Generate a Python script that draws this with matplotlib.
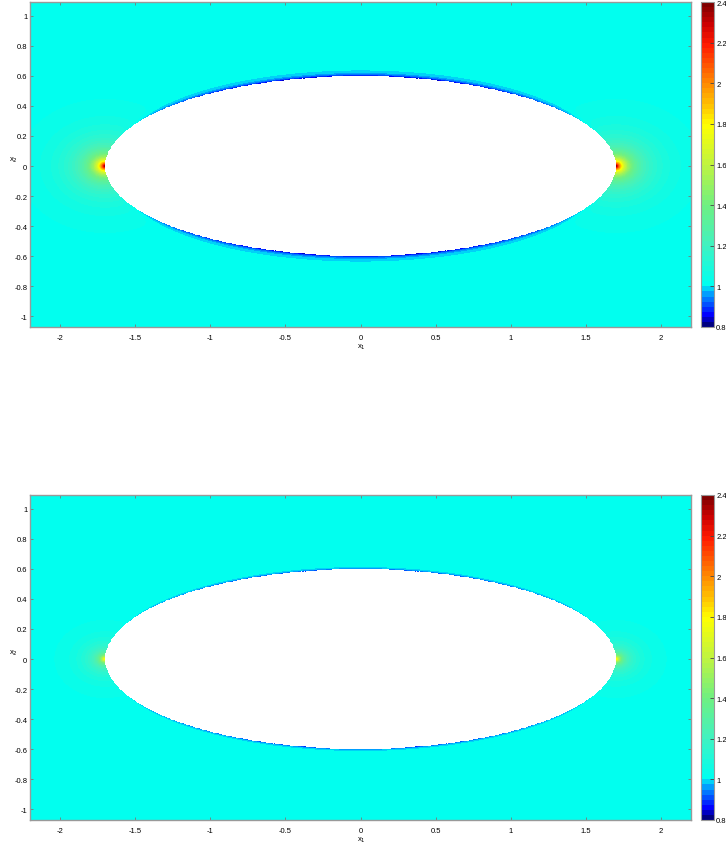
import numpy as np
import matplotlib
matplotlib.use("Agg")
import matplotlib.pyplot as plt
from matplotlib.colors import LinearSegmentedColormap, BoundaryNorm

plt.rcParams['font.family'] = ['Liberation Sans', 'DejaVu Sans']

# Ellipse (hole) semi-axes
semi_a = 1.7
semi_b = 0.6

# Per-panel field parameters (top, bottom)
tip_peak = [2.4, 1.85]       # value at the ellipse tips
tip_core = [0.035, 0.02]     # width of the sharp peak at the tip
tip_halo = [0.15, 0.1]       # width of the wider halo
side_min = [0.8, 0.86]       # value on top/bottom of the ellipse
side_width = [0.013, 0.006]  # thickness of the blue band
far_value = 1.01

# Colour scale
cmin, cmax, nlev = 0.8, 2.4, 64
cbar_ticks = [0.8, 1.0, 1.2, 1.4, 1.6, 1.8, 2.0, 2.2, 2.4]
cmap_stops = [0.8, 0.85, 0.95, 1.0, 1.2, 1.4, 1.6, 1.8, 1.9, 2.0, 2.2, 2.3, 2.4]
cmap_colors = ['#000080', '#0000ff', '#0099ff', '#00fff0', '#40f2c0', '#70f080',
               '#c0f440', '#ffff00', '#ffc000', '#ff8c00', '#ff1a00', '#cc0000', '#800000']

x_ticks = [-2, -1.5, -1, -0.5, 0, 0.5, 1, 1.5, 2]
y_ticks = [-1, -0.8, -0.6, -0.4, -0.2, 0, 0.2, 0.4, 0.6, 0.8, 1]
xlim = (-2.2, 2.2)
ylim = (-1.073, 1.093)

pos = [(c - cmin) / (cmax - cmin) for c in cmap_stops]
base = LinearSegmentedColormap.from_list('field', list(zip(pos, cmap_colors)))
cmap = base.resampled(nlev)
levels = np.linspace(cmin, cmax, nlev + 1)

xg = np.linspace(xlim[0], xlim[1], 900)
yg = np.linspace(ylim[0], ylim[1], 450)
X, Y = np.meshgrid(xg, yg)
F = (X / semi_a) ** 2 + (Y / semi_b) ** 2 - 1
grad = 2 * np.sqrt((X / semi_a ** 2) ** 2 + (Y / semi_b ** 2) ** 2)
dist = np.clip(F / grad, 0, None)
r_tip = np.sqrt((np.abs(X) - semi_a) ** 2 + (1.3 * Y) ** 2)
w_side = np.clip(1 - (X / (0.95 * semi_a)) ** 2, 0, None) ** 0.7

fig = plt.figure(figsize=(7.26, 8.45), dpi=100)
tops = [3, 496]   # top edge of each panel, pixels

for i, top_px in enumerate(tops):
    bottom = 1 - (top_px + 325) / 845
    ax = fig.add_axes([30 / 726, bottom, 661 / 726, 325 / 845])
    tip = 0.5 * np.exp(-r_tip / tip_core[i]) + 0.5 * np.exp(-r_tip / tip_halo[i])
    field = far_value + (tip_peak[i] - 1) * tip + (side_min[i] - 1) * w_side * np.exp(-dist / side_width[i])
    field = np.clip(field, cmin + 1e-6, cmax - 1e-6)
    field = np.ma.masked_where(F < 0, field)
    # own norm per panel so the colorbars don't reset each other
    norm = BoundaryNorm(levels, nlev)
    cs = ax.contourf(X, Y, field, levels=levels, cmap=cmap, norm=norm)

    ax.set_xlim(xlim)
    ax.set_ylim(ylim)
    ax.set_xticks(x_ticks)
    ax.set_yticks(y_ticks)
    ax.set_xticklabels(['%g' % t for t in x_ticks])
    ax.set_yticklabels(['%g' % t for t in y_ticks])
    ax.tick_params(direction='in', length=2, width=0.6, color='#777777',
                   labelsize=5.5, top=True, right=True)
    ax.tick_params(axis='x', pad=5)
    ax.tick_params(axis='y', pad=2)
    for s in ax.spines.values():
        s.set_color('#999999')
        s.set_linewidth(1.0)
    fig.text(13 / 726, 1 - (top_px + 157) / 845, 'x$_2$', fontsize=5.5, ha='center', va='center')
    fig.text(361 / 726, 1 - (top_px + 344) / 845, 'x$_1$', fontsize=5.5, ha='center', va='center')

    cax = fig.add_axes([701 / 726, bottom, 13 / 726, 325 / 845])
    cb = fig.colorbar(cs, cax=cax)
    cb.set_ticks(cbar_ticks, labels=['%g' % t for t in cbar_ticks])
    cb.minorticks_off()
    cb.ax.tick_params(direction='in', length=3, width=0.6, color='#444444',
                      labelsize=5.5, pad=1.5)
    cb.outline.set_edgecolor('#999999')

plt.savefig('out.png', dpi=100)
